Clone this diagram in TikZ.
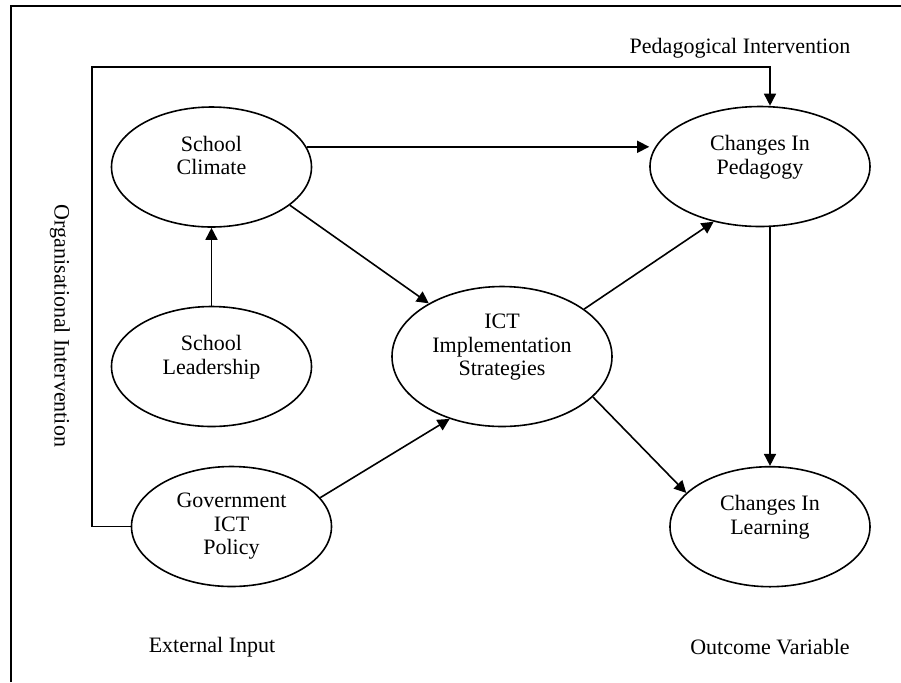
\documentclass[tikz,border=0pt]{standalone}
\usepackage{fontspec}
\setmainfont{Liberation Serif}
\usetikzlibrary{arrows.meta}
\usetikzlibrary{shapes.geometric}
\usetikzlibrary{positioning}

\begin{document}
\begin{tikzpicture}[x=0.5pt,y=-0.5pt,->,>={Triangle[length=6pt,width=6pt]},thick,
    every node/.style={font=\fontsize{11}{11.75}\selectfont},
    var node/.style={ellipse,draw,align=center,inner sep=0pt,minimum width=100pt,minimum height=60pt},
    wide node/.style={var node,minimum width=110pt},
    side label/.style={inner sep=0pt}
    ]
    \useasboundingbox (0,0) rectangle (901,682);

    % frame
    \draw[-,line width=1.2pt] (11,682) -- (11,6) -- (901,6);

    \node[var node](climate) at (211.5,167){School\\Climate\\\mbox{}};
    \node[var node](leader) at (211.5,366.5){School\\Leadership\\\mbox{}};
    \node[var node](gov) at (231.5,526.5){Government\\ICT\\Policy};
    \node[wide node,minimum height=70pt](ict) at (502,356.5){ICT\\Implementation\\Strategies\\\mbox{}};
    \node[wide node](pedagogy) at (760,166.5){Changes In\\Pedagogy\\\mbox{}};
    \node[var node](learning) at (770,526.7){Changes In\\Learning\\\mbox{}};

    \node[side label](pedint) at (740,48){Pedagogical Intervention};
    \node[side label,rotate=-90](orgint) at (60,326){Organisational Intervention};
    \node[side label](extin) at (212,647){External Input};
    \node[side label](outvar) at (770,647){Outcome Variable};

    \coordinate (corner) at (91.7,66.7);

    \path
    (leader) edge (climate)
    (climate.12) edge (climate.12 -| pedagogy.west)
    (climate.-26) edge (ict.144)
    (gov.18) edge (ict.-130)
    (ict.30) edge (pedagogy.-130)
    (ict.-24) edge (learning.158)
    (pedagogy.south -| learning.north) edge (learning.north);

    \draw (gov.west) -| (corner) -| (learning.north |- pedagogy.north);
  \end{tikzpicture}
\end{document}
